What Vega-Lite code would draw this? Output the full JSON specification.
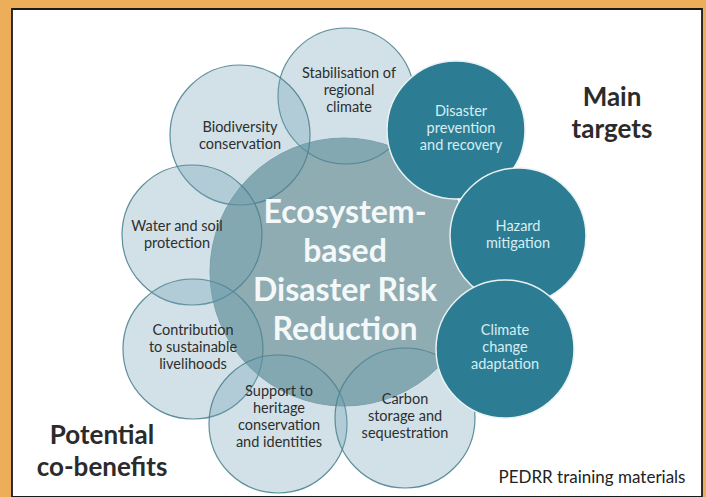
{
  "$schema": "https://vega.github.io/schema/vega-lite/v6.json",
  "autosize": {"type": "none"},
  "width": 690,
  "height": 488,
  "padding": {"left": 12, "top": 9, "right": 4, "bottom": 0},
  "background": "#EDAE5A",
  "config": {
    "view": {"fill": "#ffffff", "stroke": "#1a1a1a", "strokeWidth": 1.8},
    "font": "Lato"
  },
  "datasets": {
    "core": [{"name": "Ecosystem-based Disaster Risk Reduction", "cx": 344, "cy": 272, "r": 134}],
    "light": [
      {"name": "Stabilisation of regional climate", "cx": 346, "cy": 96, "r": 68},
      {"name": "Biodiversity conservation", "cx": 240, "cy": 135, "r": 70},
      {"name": "Water and soil protection", "cx": 192, "cy": 235, "r": 70},
      {"name": "Contribution to sustainable livelihoods", "cx": 193, "cy": 349, "r": 70},
      {"name": "Support to heritage conservation and identities", "cx": 278, "cy": 424, "r": 69},
      {"name": "Carbon storage and sequestration", "cx": 405, "cy": 418, "r": 70}
    ],
    "dark": [
      {"name": "Disaster prevention and recovery", "cx": 456, "cy": 130, "r": 69},
      {"name": "Hazard mitigation", "cx": 518, "cy": 236, "r": 68},
      {"name": "Climate change adaptation", "cx": 505, "cy": 349, "r": 69}
    ],
    "lightLabels": [
      {"lines": ["Stabilisation of", "regional", "climate"], "lx": 349, "ly": 74},
      {"lines": ["Biodiversity", "conservation"], "lx": 240, "ly": 128},
      {"lines": ["Water and soil", "protection"], "lx": 177, "ly": 227},
      {"lines": ["Contribution", "to sustainable", "livelihoods"], "lx": 193, "ly": 331},
      {"lines": ["Support to", "heritage", "conservation", "and identities"], "lx": 279, "ly": 392},
      {"lines": ["Carbon", "storage and", "sequestration"], "lx": 405, "ly": 400}
    ],
    "darkLabels": [
      {"lines": ["Disaster", "prevention", "and recovery"], "lx": 461, "ly": 112},
      {"lines": ["Hazard", "mitigation"], "lx": 518, "ly": 227},
      {"lines": ["Climate", "change", "adaptation"], "lx": 505, "ly": 331}
    ],
    "coreLabel": [{"lines": ["Ecosystem-", "based", "Disaster Risk", "Reduction"], "lx": 345, "ly": 213}],
    "headers": [
      {"lines": ["Main", "targets"], "lx": 612, "ly": 98},
      {"lines": ["Potential", "co-benefits"], "lx": 102, "ly": 436}
    ],
    "source": [{"lines": ["PEDRR training materials"], "lx": 592, "ly": 478}]
  },
  "layer": [
    {
      "data": {"name": "core"},
      "mark": {"type": "point", "shape": "circle", "filled": true, "color": "#8EACB2", "opacity": 1, "stroke": "#7FA0A8", "strokeWidth": 1},
      "encoding": {
        "x": {"field": "cx", "type": "quantitative", "scale": {"domain": [12, 702], "nice": false, "zero": false}, "axis": null},
        "y": {"field": "cy", "type": "quantitative", "scale": {"domain": [9, 497], "nice": false, "zero": false, "reverse": true}, "axis": null},
        "size": {"field": "r", "type": "quantitative", "scale": {"type": "pow", "exponent": 2, "domain": [0, 100], "range": [0, 40000]}, "legend": null}
      }
    },
    {
      "data": {"name": "light"},
      "mark": {"type": "point", "shape": "circle", "filled": true, "fill": "#6FA3B3", "fillOpacity": 0.32, "stroke": "#4F8391", "strokeWidth": 1.2, "strokeOpacity": 0.9},
      "encoding": {
        "x": {"field": "cx", "type": "quantitative", "axis": null},
        "y": {"field": "cy", "type": "quantitative", "axis": null},
        "size": {"field": "r", "type": "quantitative", "legend": null}
      }
    },
    {
      "data": {"name": "dark"},
      "mark": {"type": "point", "shape": "circle", "filled": true, "fill": "#2C7D93", "opacity": 1, "stroke": "#E8F1F3", "strokeWidth": 1.5},
      "encoding": {
        "x": {"field": "cx", "type": "quantitative", "axis": null},
        "y": {"field": "cy", "type": "quantitative", "axis": null},
        "size": {"field": "r", "type": "quantitative", "legend": null}
      }
    },
    {
      "data": {"name": "lightLabels"},
      "mark": {"type": "text", "fontSize": 14.5, "lineHeight": 17, "color": "#2e2e2e", "align": "center", "baseline": "middle"},
      "encoding": {
        "x": {"field": "lx", "type": "quantitative", "axis": null},
        "y": {"field": "ly", "type": "quantitative", "axis": null},
        "text": {"field": "lines"}
      }
    },
    {
      "data": {"name": "darkLabels"},
      "mark": {"type": "text", "fontSize": 14.5, "lineHeight": 17, "color": "#D6EEF3", "align": "center", "baseline": "middle"},
      "encoding": {
        "x": {"field": "lx", "type": "quantitative", "axis": null},
        "y": {"field": "ly", "type": "quantitative", "axis": null},
        "text": {"field": "lines"}
      }
    },
    {
      "data": {"name": "coreLabel"},
      "mark": {"type": "text", "fontSize": 32, "fontWeight": "bold", "lineHeight": 39, "color": "#F4F8F9", "align": "center", "baseline": "middle"},
      "encoding": {
        "x": {"field": "lx", "type": "quantitative", "axis": null},
        "y": {"field": "ly", "type": "quantitative", "axis": null},
        "text": {"field": "lines"}
      }
    },
    {
      "data": {"name": "headers"},
      "mark": {"type": "text", "fontSize": 26, "fontWeight": "bold", "lineHeight": 32, "color": "#2b2b2b", "align": "center", "baseline": "middle"},
      "encoding": {
        "x": {"field": "lx", "type": "quantitative", "axis": null},
        "y": {"field": "ly", "type": "quantitative", "axis": null},
        "text": {"field": "lines"}
      }
    },
    {
      "data": {"name": "source"},
      "mark": {"type": "text", "fontSize": 17, "color": "#222222", "align": "center", "baseline": "middle"},
      "encoding": {
        "x": {"field": "lx", "type": "quantitative", "axis": null},
        "y": {"field": "ly", "type": "quantitative", "axis": null},
        "text": {"field": "lines"}
      }
    }
  ]
}
